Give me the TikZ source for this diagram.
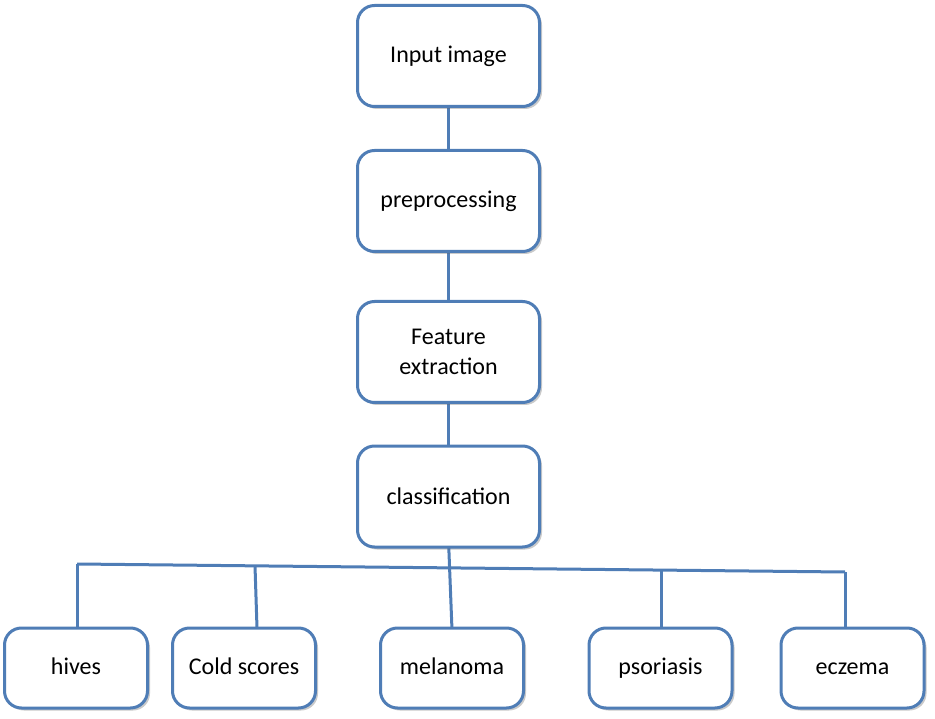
\documentclass[tikz,border=0pt]{standalone}
\usepackage{fontspec}
\setmainfont{Carlito}
\usetikzlibrary{shadows,calc}
\definecolor{boxblue}{RGB}{79,125,182}
\tikzset{
  box/.style={draw=boxblue, line width=3pt, rounded corners=17pt, fill=white,
    minimum width=182pt, minimum height=101pt, align=center, font=\fontsize{24}{30}\selectfont,
    drop shadow={shadow xshift=2.5pt, shadow yshift=-2.5pt, opacity=0.35, fill=black!60}},
  leaf/.style={box, minimum width=143pt, minimum height=80pt, text height=17pt, text depth=5pt},
  conn/.style={draw=boxblue, line width=3pt}
}
\begin{document}
\begin{tikzpicture}[x=1pt,y=-1pt]
\useasboundingbox (0,0) rectangle (935,719);
\coordinate (b1) at (77,564);
\coordinate (b2) at (255,565.8);
\coordinate (b4) at (661,570.1);
\coordinate (b5) at (845,572);
\coordinate (c2) at (257,628);
\draw[conn] (b1) -- (b5);
\draw[conn] (448.5,100) -- (448.5,460);
\draw[conn] (448.5,540) -- (452,630);
\draw[conn] (b1) -- (77,630);
\draw[conn] (b2) -- (c2);
\draw[conn] (b4) -- (661,630);
\draw[conn] (b5) -- (845,630);
\node[box] (n1) at (448.5,56) {Input image};
\node[box] (n2) at (448.5,201) {preprocessing};
\node[box] (n3) at (448.5,352) {Feature\\extraction};
\node[box] (n4) at (448.5,496.5) {classification};
\node[leaf] (l1) at (76,668) {hives};
\node[leaf] (l2) at (244,668) {Cold scores};
\node[leaf] (l3) at (452,668) {melanoma};
\node[leaf] (l4) at (660.5,668) {psoriasis};
\node[leaf] (l5) at (852.5,668) {eczema};
\end{tikzpicture}
\end{document}
